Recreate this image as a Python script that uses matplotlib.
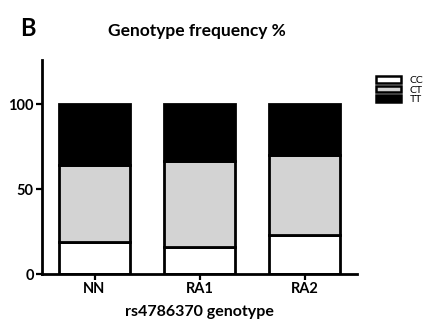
import matplotlib
matplotlib.use("Agg")
import matplotlib.pyplot as plt
import numpy as np
from matplotlib.patches import Patch

plt.rcParams['font.family'] = ['Lato', 'DejaVu Sans']

groups = ['NN', 'RA1', 'RA2']
cc = np.array([19, 16, 23])
ct = np.array([45, 50.5, 47])
tt = 100 - cc - ct

fig = plt.figure(figsize=(4.29, 3.24), dpi=100)
ax = fig.add_axes([42/429, 50/324, 315/429, 214/324])

x = np.arange(len(groups))
w = 0.67
lw = 2.0
ax.bar(x, cc, w, color='white', edgecolor='black', linewidth=lw, label='CC')
ax.bar(x, ct, w, bottom=cc, color='#d3d3d3', edgecolor='black', linewidth=lw, label='CT')
ax.bar(x, tt, w, bottom=cc + ct, color='black', edgecolor='black', linewidth=lw, label='TT')

ax.set_xlim(-0.5, 2.5)
ax.set_ylim(0, 126)
ax.set_yticks([0, 50, 100])
ax.set_xticks(x)
ax.set_xticklabels(groups)
for s in ['top', 'right']:
    ax.spines[s].set_visible(False)
for s in ['left', 'bottom']:
    ax.spines[s].set_linewidth(2.0)
ax.tick_params(axis='both', width=1.6, length=4.5, labelsize=10.5, pad=1.5)
for t in ax.get_xticklabels() + ax.get_yticklabels():
    t.set_fontweight('bold')
ax.set_xlabel('rs4786370 genotype', fontsize=11.5, fontweight='bold', labelpad=6)

fig.text(197/429, 1 - 31/324, 'Genotype frequency %', fontsize=12.5,
         fontweight='bold', ha='center', va='center')
fig.text(20/429, 1 - 29/324, 'B', fontsize=17, fontweight='bold',
         ha='left', va='center')

handles = [Patch(facecolor='white', edgecolor='black', linewidth=1.8, label='CC'),
           Patch(facecolor='#d3d3d3', edgecolor='black', linewidth=1.8, label='CT'),
           Patch(facecolor='black', edgecolor='black', linewidth=1.8, label='TT')]
fig.legend(handles=handles, loc='upper left', bbox_to_anchor=(371/429, 1 - 71/324),
           frameon=False, fontsize=7.5, handlelength=2.4, handleheight=0.55,
           labelspacing=0.05, handletextpad=0.8, borderpad=0)

fig.savefig('out.png', dpi=100)
